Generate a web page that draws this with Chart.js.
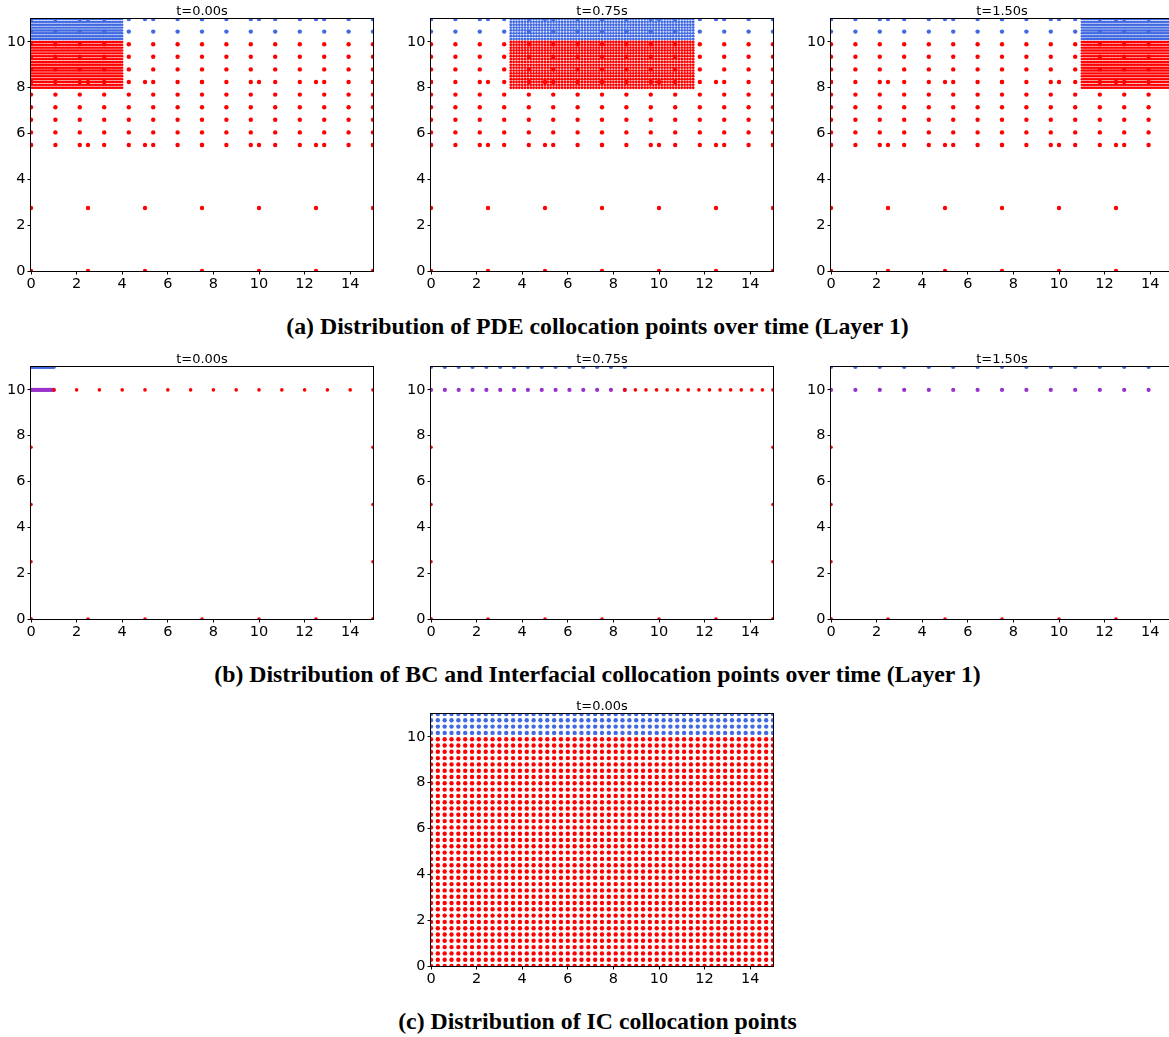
<!DOCTYPE html>
<html><head><meta charset="utf-8">
<script src="https://cdn.jsdelivr.net/npm/chart.js@4.4.0/dist/chart.umd.min.js"></script>
<style>
html,body{margin:0;padding:0;background:#fff;overflow:hidden;width:1169px;height:1037px;position:relative;}
canvas{position:absolute;}
.cap{position:absolute;left:0;width:1195px;text-align:center;font-family:'Liberation Serif','Times New Roman',serif;font-weight:bold;font-size:23.8px;line-height:28px;color:#000;white-space:nowrap;}
</style></head><body>
<canvas id="a1"></canvas><canvas id="a2"></canvas><canvas id="a3"></canvas>
<div class="cap" style="top:312px">(a) Distribution of PDE collocation points over time (Layer 1)</div>
<canvas id="b1"></canvas><canvas id="b2"></canvas><canvas id="b3"></canvas>
<div class="cap" style="top:660px">(b) Distribution of BC and Interfacial collocation points over time (Layer 1)</div>
<canvas id="c1"></canvas>
<div class="cap" style="top:1007px">(c) Distribution of IC collocation points</div>
<script>
// ---------- data ----------
const xTicks = [0, 2, 4, 6, 8, 10, 12, 14];
const yTicks = [0, 2, 4, 6, 8, 10];
const times = ['t=0.00s', 't=0.75s', 't=1.50s'];
const interfaceY = 10;
const topY = 11;

// PDE points: coarse grid (upper band), sparse grid, fine refinement grid per time
const coarseX = [0, 1.07, 2.14, 3.21, 4.29, 5.36, 6.43, 7.5, 8.57, 9.64, 10.71, 11.79, 12.86, 13.93, 15];
const coarseY = [5.5, 6.05, 6.6, 7.15, 7.7, 8.25, 8.8, 9.35, 9.9, 10.45, 11];
const sparseX = [0, 2.5, 5, 7.5, 10, 12.5, 15];
const sparseY = [0, 2.75, 5.5, 8.25, 11];
const fineXt0 = [0,0.0625,0.125,0.1875,0.25,0.3125,0.375,0.4375,0.5,0.5625,0.625,0.6875,0.75,0.8125,0.875,0.9375,1,1.0625,1.125,1.1875,1.25,1.3125,1.375,1.4375,1.5,1.5625,1.625,1.6875,1.75,1.8125,1.875,1.9375,2,2.0625,2.125,2.1875,2.25,2.3125,2.375,2.4375,2.5,2.5625,2.625,2.6875,2.75,2.8125,2.875,2.9375,3,3.0625,3.125,3.1875,3.25,3.3125,3.375,3.4375,3.5,3.5625,3.625,3.6875,3.75,3.8125,3.875,3.9375,4];
const fineXt1 = [3.5,3.625,3.75,3.875,4,4.125,4.25,4.375,4.5,4.625,4.75,4.875,5,5.125,5.25,5.375,5.5,5.625,5.75,5.875,6,6.125,6.25,6.375,6.5,6.625,6.75,6.875,7,7.125,7.25,7.375,7.5,7.625,7.75,7.875,8,8.125,8.25,8.375,8.5,8.625,8.75,8.875,9,9.125,9.25,9.375,9.5,9.625,9.75,9.875,10,10.125,10.25,10.375,10.5,10.625,10.75,10.875,11,11.125,11.25,11.375,11.5];
const fineXt2 = [11,11.0625,11.125,11.1875,11.25,11.3125,11.375,11.4375,11.5,11.5625,11.625,11.6875,11.75,11.8125,11.875,11.9375,12,12.0625,12.125,12.1875,12.25,12.3125,12.375,12.4375,12.5,12.5625,12.625,12.6875,12.75,12.8125,12.875,12.9375,13,13.0625,13.125,13.1875,13.25,13.3125,13.375,13.4375,13.5,13.5625,13.625,13.6875,13.75,13.8125,13.875,13.9375,14,14.0625,14.125,14.1875,14.25,14.3125,14.375,14.4375,14.5,14.5625,14.625,14.6875,14.75,14.8125,14.875,14.9375,15];
const fineY = [8,8.125,8.25,8.375,8.5,8.625,8.75,8.875,9,9.125,9.25,9.375,9.5,9.625,9.75,9.875,10,10.125,10.25,10.375,10.5,10.625,10.75,10.875,11];

// BC / interfacial points
const sideX = [0, 15];
const sideY = [0, 2.5, 5, 7.5];
const bottomX = [0, 2.5, 5, 7.5, 10, 12.5, 15];
const b1IfaceX = [0, 0.071, 0.143, 0.214, 0.286, 0.357, 0.429, 0.5, 0.571, 0.643, 0.714, 0.786, 0.857, 0.929, 1];
const b1RedX = [1, 2, 3, 4, 5, 6, 7, 8, 9, 10, 11, 12, 13, 14, 15];
const b2IfaceX = [0, 0.607, 1.214, 1.821, 2.429, 3.036, 3.643, 4.25, 4.857, 5.464, 6.071, 6.679, 7.286, 7.893, 8.5];
const b2RedX = [8.5, 8.964, 9.429, 9.893, 10.357, 10.821, 11.286, 11.75, 12.214, 12.679, 13.143, 13.607, 14.071, 14.536, 15];
const b3IfaceX = [0, 1.07, 2.14, 3.21, 4.29, 5.36, 6.43, 7.5, 8.57, 9.64, 10.71, 11.79, 12.86, 13.93, 15];
const b3RedX = [];

// IC points
const icX = [0,0.3,0.6,0.9,1.2,1.5,1.8,2.1,2.4,2.7,3,3.3,3.6,3.9,4.2,4.5,4.8,5.1,5.4,5.7,6,6.3,6.6,6.9,7.2,7.5,7.8,8.1,8.4,8.7,9,9.3,9.6,9.9,10.2,10.5,10.8,11.1,11.4,11.7,12,12.3,12.6,12.9,13.2,13.5,13.8,14.1,14.4,14.7,15];
const icY = [0,0.275,0.55,0.825,1.1,1.375,1.65,1.925,2.2,2.475,2.75,3.025,3.3,3.575,3.85,4.125,4.4,4.675,4.95,5.225,5.5,5.775,6.05,6.325,6.6,6.875,7.15,7.425,7.7,7.975,8.25,8.525,8.8,9.075,9.35,9.625,9.9,10.175,10.45,10.725,11];

// ---------- styling ----------
const RED = '#ff0000', BLUE = '#4169e1', PURPLE = '#9932cc';
const AX_W = 342, AX_H = 252, PAD_L = 40, PAD_T = 30, PAD_R = 12, PAD_B = 26;
const fineRadius = [1.2, 1.4, 1.2];

function grid(xs, ys) { const o = []; for (const y of ys) for (const x of xs) o.push({x, y}); return o; }
function ds(data, color, r) {
  return {data, pointRadius: r, pointBackgroundColor: color, pointBorderColor: color, pointBorderWidth: 0,
          pointHoverRadius: r, showLine: false, clip: 0};
}

const framePlugin = {
  id: 'frame',
  afterDatasetsDraw(chart, args, opts) {
    const {ctx, chartArea: a} = chart;
    ctx.save();
    ctx.strokeStyle = '#000'; ctx.lineWidth = 1;
    ctx.strokeRect(Math.round(a.left) - 0.5, Math.round(a.top) - 0.5, Math.round(a.right - a.left) + 1, Math.round(a.bottom - a.top) + 1);
    ctx.fillStyle = '#000'; ctx.font = '13px "DejaVu Sans"';
    ctx.textAlign = 'center'; ctx.textBaseline = 'middle';
    ctx.fillText(opts.title, (a.left + a.right) / 2, a.top - 7.5);
    ctx.restore();
  }
};

function makeChart(id, axLeft, axTop, title, datasets) {
  const cv = document.getElementById(id);
  cv.width = PAD_L + AX_W + PAD_R; cv.height = PAD_T + AX_H + PAD_B;
  cv.style.left = (axLeft - PAD_L) + 'px'; cv.style.top = (axTop - PAD_T) + 'px';
  const tickFont = {family: 'DejaVu Sans', size: 14.5};
  new Chart(cv, {
    type: 'scatter',
    data: {datasets},
    options: {
      responsive: false, animation: false, devicePixelRatio: 1, events: [],
      layout: {padding: {left: 0, top: PAD_T, right: PAD_R, bottom: 0}},
      plugins: {legend: {display: false}, tooltip: {enabled: false}, frame: {title}},
      scales: {
        x: {type: 'linear', min: 0, max: 15,
            afterBuildTicks: s => { s.ticks = xTicks.map(v => ({value: v})); },
            afterFit: s => { s.height = PAD_B; },
            grid: {display: true, drawOnChartArea: false, drawTicks: true, tickLength: 3.5, color: '#000', lineWidth: 1},
            border: {display: false},
            ticks: {font: tickFont, color: '#000', padding: 1, maxRotation: 0, autoSkip: false}},
        y: {type: 'linear', min: 0, max: 11,
            afterBuildTicks: s => { s.ticks = yTicks.map(v => ({value: v})); },
            afterFit: s => { s.width = PAD_L; },
            grid: {display: true, drawOnChartArea: false, drawTicks: true, tickLength: 3.5, color: '#000', lineWidth: 1},
            border: {display: false},
            ticks: {font: tickFont, color: '#000', padding: 2, autoSkip: false}}
      }
    },
    plugins: [framePlugin]
  });
}

const colLeft = [31, 431, 831];
const rowTop = [19, 367, 714];

// (a) PDE panels
const fineSets = [fineXt0, fineXt1, fineXt2];
for (let k = 0; k < 3; k++) {
  const fx = fineSets[k];
  const fRed = grid(fx, fineY.filter(y => y <= interfaceY));
  const fBlue = grid(fx, fineY.filter(y => y > interfaceY));
  const cRed = grid(coarseX, coarseY.filter(y => y <= interfaceY)).concat(grid(sparseX, sparseY.filter(y => y <= interfaceY)));
  const cBlue = grid(coarseX, coarseY.filter(y => y > interfaceY)).concat(grid(sparseX, sparseY.filter(y => y > interfaceY)));
  makeChart('a' + (k + 1), colLeft[k], rowTop[0], times[k], [
    ds(fRed, RED, fineRadius[k]), ds(fBlue, BLUE, fineRadius[k]), ds(cRed, RED, 2.2), ds(cBlue, BLUE, 2.2)
  ]);
}

// (b) BC / interfacial panels
const ifaceSets = [b1IfaceX, b2IfaceX, b3IfaceX];
const redSets = [b1RedX, b2RedX, b3RedX];
for (let k = 0; k < 3; k++) {
  const bnd = grid(sideX, sideY).concat(grid(bottomX, [0]));
  const redI = grid(redSets[k], [interfaceY]);
  const purp = grid(ifaceSets[k], [interfaceY]);
  const topB = grid(ifaceSets[k], [topY]);
  makeChart('b' + (k + 1), colLeft[k], rowTop[1], times[k], [
    ds(bnd, RED, 1.8), ds(redI, RED, 1.8), ds(purp, PURPLE, 2.1), ds(topB, BLUE, 2.1)
  ]);
}

// (c) IC panel
makeChart('c1', colLeft[1], rowTop[2], times[0], [
  ds(grid(icX, icY.filter(y => y <= interfaceY)), RED, 2.2),
  ds(grid(icX, icY.filter(y => y > interfaceY)), BLUE, 2.2)
]);
</script>
</body></html>
